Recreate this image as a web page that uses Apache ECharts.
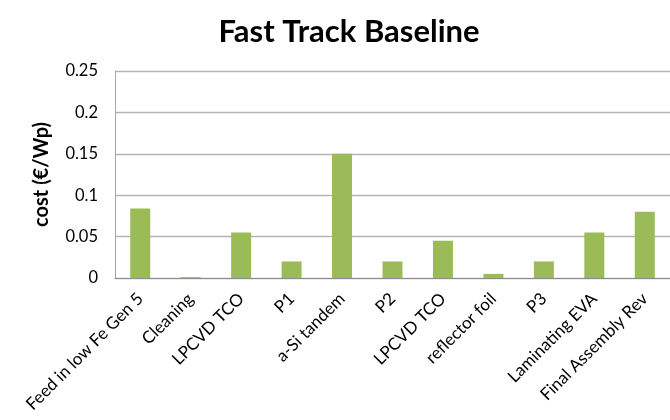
<!DOCTYPE html>
<html>
<head>
<meta charset="utf-8">
<script src="https://cdn.jsdelivr.net/npm/echarts@6/dist/echarts.min.js"></script>
<style>
  html, body { margin: 0; padding: 0; background: #fff; }
  #chart { width: 670px; height: 420px; }
</style>
</head>
<body>
<div id="chart"></div>
<script>
// Process steps and their cost contribution (€/Wp)
const steps = [
  'Feed in low Fe Gen 5', 'Cleaning', 'LPCVD TCO', 'P1', 'a-Si tandem',
  'P2', 'LPCVD TCO', 'reflector foil', 'P3', 'Laminating EVA', 'Final Assembly Rev'
];
const costs = [0.084, 0.001, 0.055, 0.02, 0.15, 0.02, 0.045, 0.005, 0.02, 0.055, 0.08];
const yTicks = [0, 0.05, 0.1, 0.15, 0.2, 0.25];

const font = 'Lato, "Open Sans", "Liberation Sans", sans-serif';
const chart = echarts.init(document.getElementById('chart'));
chart.setOption({
  animation: false,
  title: {
    text: 'Fast Track Baseline',
    left: 344, top: 11, textAlign: 'center',
    textStyle: { fontFamily: font, fontSize: 31, fontWeight: 'bold', color: '#000' }
  },
  grid: { left: 115, right: -3, top: 71, bottom: 142, containLabel: false },
  xAxis: {
    type: 'category',
    data: steps,
    axisLine: { lineStyle: { color: '#8c8c8c', width: 1 } },
    axisTick: { show: false },
    axisLabel: {
      interval: 0, rotate: 45, margin: 18,
      fontFamily: font, fontSize: 17, color: '#000'
    }
  },
  yAxis: {
    type: 'value',
    min: 0, max: yTicks[yTicks.length - 1], interval: 0.05,
    name: 'cost (€/Wp)',
    nameLocation: 'middle', nameGap: 63, nameRotate: 90,
    nameTextStyle: { fontFamily: font, fontSize: 20, fontWeight: 'bold', color: '#000' },
    axisLine: { show: true, lineStyle: { color: '#a6a6a6', width: 1 } },
    axisTick: { show: false },
    axisLabel: {
      margin: 17, fontFamily: font, fontSize: 16.5, color: '#000',
      formatter: v => String(+v.toFixed(2))
    },
    splitLine: { lineStyle: { color: '#b3b3b3', width: 1.3 } }
  },
  series: [{
    type: 'bar',
    data: costs,
    barWidth: 20,
    itemStyle: { color: '#9bbb59' }
  }]
});
</script>
</body>
</html>
